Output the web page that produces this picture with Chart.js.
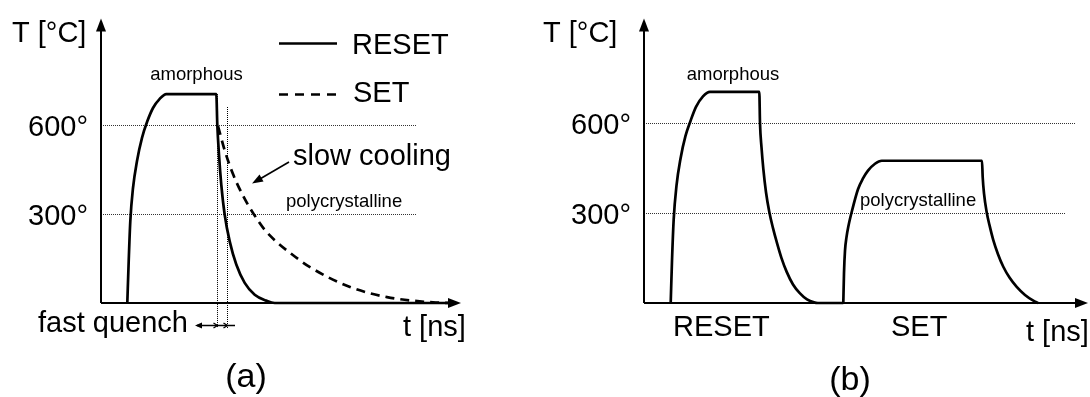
<!DOCTYPE html>
<html>
<head>
<meta charset="utf-8">
<script src="https://cdn.jsdelivr.net/npm/chart.js@4.4.1/dist/chart.umd.min.js"></script>
<style>
  html, body { margin: 0; padding: 0; background: #fff; }
  #wrap { position: relative; width: 1090px; height: 397px; overflow: hidden; }
  canvas { position: absolute; top: 0; }
  #ca { left: 0; }
  #cb { left: 540px; }
</style>
</head>
<body>
<div id="wrap">
  <canvas id="ca" width="540" height="397"></canvas>
  <canvas id="cb" width="550" height="397"></canvas>
</div>
<script>
// ---- Panel (a): one RESET pulse, with the SET slow-cooling tail ----
const resetTimeA = [2.63, 2.77, 2.93, 3.2, 3.6, 4.1, 4.63, 5.2, 5.87, 6.53, 11.53, 11.63, 11.8, 12.03, 12.37, 12.87, 13.53, 14.37, 15.37, 16.53, 17.37, 35.4];
const resetTempA = [0, 141, 276, 388, 479, 557, 613, 658, 689, 705, 705, 602, 500, 399, 298, 208, 130, 68, 28, 8, 0, 0];
const setTimeA   = [11.7, 12.37, 13.2, 14.2, 15.2, 16.37, 17.6, 18.57, 20.9, 24.9, 28.6, 33.2, 35.4];
const setTempA   = [597, 515, 435, 362, 304, 247, 205, 178, 121, 54, 20, 2, 0];
// fast-quench window marked by the two dotted verticals
const quenchWindowA = [11.57, 12.63];

// ---- Panel (b): RESET pulse followed by a SET pulse ----
const resetTimeB = [2.67, 2.8, 2.97, 3.25, 3.65, 4.15, 4.65, 5.2, 5.9, 6.6, 11.53, 11.6, 11.75, 11.93, 12.2, 12.53, 12.9, 13.27, 13.75, 14.27, 14.9, 15.6, 16.3, 17.0, 17.4, 19.93];
const resetTempB = [0, 141, 280, 392, 482, 558, 608, 655, 690, 705, 705, 600, 520, 449, 370, 304, 250, 204, 150, 104, 62, 32, 12, 2, 0, 0];
const setTimeB   = [19.93, 20.0, 20.1, 20.25, 20.45, 20.8, 21.4, 21.9, 22.4, 23.1, 23.77, 33.8, 33.87, 34.0, 34.27, 34.55, 34.93, 35.4, 35.93, 36.55, 37.27, 38.1, 38.93, 39.4];
const setTempB   = [0, 100, 175, 220, 258, 308, 380, 416, 442, 465, 475, 475, 420, 366, 303, 260, 210, 163, 121, 85, 54, 27, 8, 0];

// temperature marks on the vertical axis
const tempTicks = [300, 600];
const tempTickLabels = ['300°', '600°'];

const FONT = "'Liberation Sans', Arial, Helvetica, sans-serif";
const INK = '#000';

function pairs(ts, vs) { return ts.map((t, i) => ({ x: t, y: vs[i] })); }

function head(ctx, x, y, ang, len, half) {
  ctx.save();
  ctx.translate(x, y);
  ctx.rotate(ang);
  ctx.beginPath();
  ctx.moveTo(0, 0);
  ctx.lineTo(-len, -half);
  ctx.lineTo(-len, half);
  ctx.closePath();
  ctx.fill();
  ctx.restore();
}

function text(ctx, s, x, y, size, align) {
  ctx.font = size + 'px ' + FONT;
  ctx.textAlign = align || 'left';
  ctx.textBaseline = 'alphabetic';
  ctx.fillText(s, x, y);
}

// draws the arrowed axes and the dotted temperature guides under the curves
function axesPlugin(gridEnds) {
  return {
    id: 'axesArrows',
    beforeDatasetsDraw(chart) {
      const { ctx, chartArea: a, scales } = chart;
      ctx.save();
      ctx.strokeStyle = INK;
      ctx.fillStyle = INK;
      ctx.lineWidth = 2;
      ctx.beginPath();
      ctx.moveTo(a.left, a.bottom);
      ctx.lineTo(a.left, a.top + 10);
      ctx.moveTo(a.left, a.bottom);
      ctx.lineTo(a.right - 10, a.bottom);
      ctx.stroke();
      head(ctx, a.left, a.top, -Math.PI / 2, 13, 5);
      head(ctx, a.right, a.bottom, 0, 13, 5);

      ctx.strokeStyle = '#333';
      ctx.lineWidth = 1;
      ctx.setLineDash([1, 1]);
      tempTicks.forEach((v, i) => {
        const y = Math.round(scales.y.getPixelForValue(v)) + 0.5;
        ctx.beginPath();
        ctx.moveTo(a.left + 2, y);
        ctx.lineTo(scales.x.getPixelForValue(gridEnds[i]), y);
        ctx.stroke();
      });
      ctx.restore();
    }
  };
}

function baseOptions(pad, xMax, yMax, extraPlugins) {
  return {
    type: 'line',
    options: {
      responsive: false,
      animation: false,
      layout: { padding: pad },
      plugins: { legend: { display: false }, tooltip: { enabled: false } },
      scales: {
        x: { type: 'linear', min: 0, max: xMax, display: false },
        y: { type: 'linear', min: 0, max: yMax, display: false }
      },
      elements: { point: { radius: 0 } }
    },
    plugins: extraPlugins
  };
}

const solidStyle = { borderColor: INK, borderWidth: 2.7, cubicInterpolationMode: 'monotone', fill: false, clip: false, pointRadius: 0, borderJoinStyle: 'round' };

// ---------- chart (a) ----------
const labelsA = {
  id: 'labelsA',
  afterDatasetsDraw(chart) {
    const { ctx, scales, chartArea: a } = chart;
    ctx.save();
    ctx.fillStyle = INK;
    ctx.strokeStyle = INK;

    // dotted verticals bounding the quench window and its dimension arrow
    ctx.lineWidth = 1;
    ctx.setLineDash([1, 1]);
    const qx = quenchWindowA.map(v => Math.round(scales.x.getPixelForValue(v)) + 0.5);
    ctx.beginPath();
    ctx.moveTo(qx[0], scales.y.getPixelForValue(705)); ctx.lineTo(qx[0], 328);
    ctx.moveTo(qx[1], 107); ctx.lineTo(qx[1], 328);
    ctx.stroke();
    ctx.setLineDash([]);
    ctx.lineWidth = 1.3;
    ctx.beginPath();
    ctx.moveTo(197, 325.5); ctx.lineTo(235, 325.5);
    ctx.stroke();
    head(ctx, 195, 325.5, Math.PI, 7, 3);
    ctx.beginPath();
    ctx.moveTo(qx[0] - 4, 328); ctx.lineTo(qx[0], 325.5); ctx.lineTo(qx[0] - 4, 323);
    ctx.moveTo(qx[1] - 4, 328); ctx.lineTo(qx[1], 325.5); ctx.lineTo(qx[1] - 4, 323);
    ctx.stroke();

    // legend
    ctx.lineWidth = 2.7;
    ctx.beginPath(); ctx.moveTo(279, 43.5); ctx.lineTo(337, 43.5); ctx.stroke();
    ctx.setLineDash([9, 7]);
    ctx.beginPath(); ctx.moveTo(279, 94.5); ctx.lineTo(337, 94.5); ctx.stroke();
    ctx.setLineDash([]);
    text(ctx, 'RESET', 352, 53.5, 29);
    text(ctx, 'SET', 353, 102, 29);

    // "slow cooling" pointer
    ctx.lineWidth = 1.6;
    ctx.beginPath(); ctx.moveTo(289, 162); ctx.lineTo(259, 179.5); ctx.stroke();
    head(ctx, 252, 183.5, Math.atan2(183.5 - 162, 252 - 289), 11, 4);

    // axis titles and tick labels
    text(ctx, 'T [°C]', 12, 42, 29);
    tempTicks.forEach((v, i) => {
      text(ctx, tempTickLabels[i], a.left - 13, scales.y.getPixelForValue(v) + 11, 29, 'right');
    });
    text(ctx, 't [ns]', 403, 336, 29);
    text(ctx, 'fast quench', 38, 332, 29);
    text(ctx, 'slow cooling', 293, 165, 29);
    text(ctx, 'amorphous', 196.5, 80, 18.5, 'center');
    text(ctx, 'polycrystalline', 286, 206.5, 18.5);
    text(ctx, '(a)', 246, 387, 34, 'center');
    ctx.restore();
  }
};

const cfgA = baseOptions({ left: 101, right: 79, top: 18.5, bottom: 94 }, 36, 960,
  [axesPlugin([31.6, 31.6]), labelsA]);
cfgA.data = {
  datasets: [
    Object.assign({ label: 'RESET', data: pairs(resetTimeA, resetTempA) }, solidStyle),
    Object.assign({ label: 'SET', data: pairs(setTimeA, setTempA), borderDash: [9, 6] }, solidStyle)
  ]
};
new Chart(document.getElementById('ca'), cfgA);

// ---------- chart (b) ----------
const OFF_B = 540;
const labelsB = {
  id: 'labelsB',
  afterDatasetsDraw(chart) {
    const { ctx, scales, chartArea: a } = chart;
    ctx.save();
    ctx.fillStyle = INK;
    text(ctx, 'T [°C]', 543 - OFF_B, 42, 29);
    tempTicks.forEach((v, i) => {
      text(ctx, tempTickLabels[i], a.left - 13, scales.y.getPixelForValue(v) + 11, 29, 'right');
    });
    text(ctx, 'amorphous', 733 - OFF_B, 79.5, 18.5, 'center');
    text(ctx, 'polycrystalline', 860 - OFF_B, 206, 18.5);
    text(ctx, 'RESET', 673 - OFF_B, 336, 29);
    text(ctx, 'SET', 891 - OFF_B, 336, 29);
    text(ctx, 't [ns]', 1026 - OFF_B, 341, 29);
    text(ctx, '(b)', 850 - OFF_B, 390, 34, 'center');
    ctx.restore();
  }
};

const cfgB = baseOptions({ left: 104, right: 2, top: 18.5, bottom: 94 }, 44.4, 950,
  [axesPlugin([42.2, 43.2]), labelsB]);
cfgB.data = {
  datasets: [
    Object.assign({ label: 'RESET', data: pairs(resetTimeB, resetTempB) }, solidStyle),
    Object.assign({ label: 'SET', data: pairs(setTimeB, setTempB) }, solidStyle)
  ]
};
new Chart(document.getElementById('cb'), cfgB);
</script>
</body>
</html>
